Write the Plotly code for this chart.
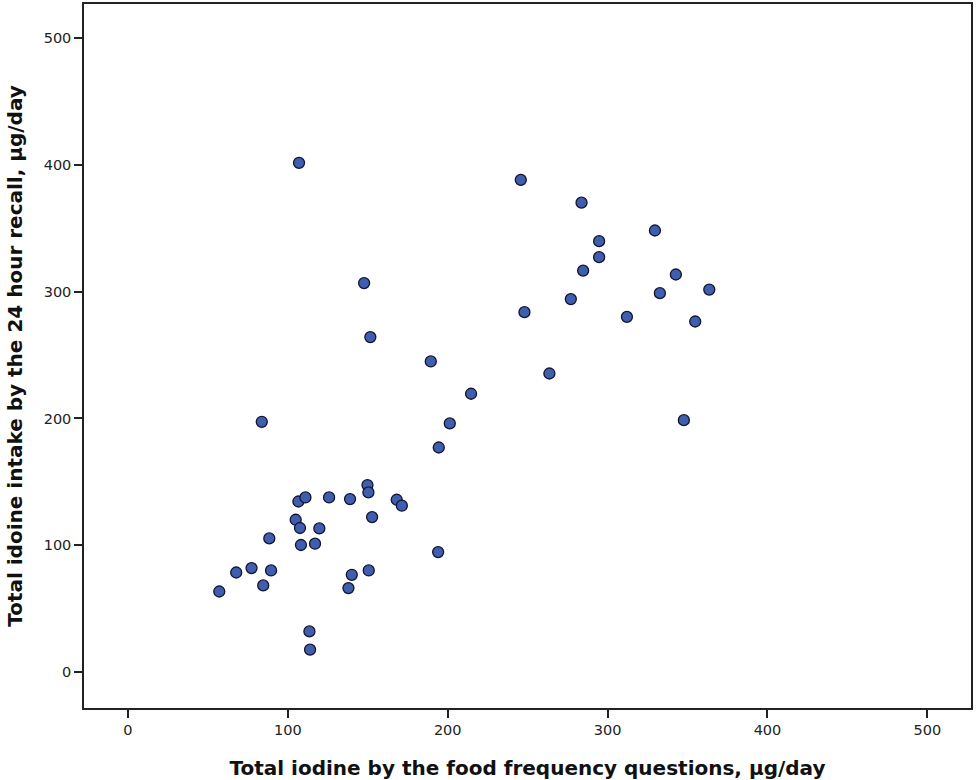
import plotly.graph_objects as go

# Total iodine by FFQ (x) vs 24-hour recall (y), µg/day
ffq = [57.1, 67.7, 77.3, 84.6, 89.5, 88.4, 104.9, 107.6, 108.2, 106.6,
       111.0, 117.0, 119.7, 125.8, 138.9, 149.8, 150.4, 152.7, 168.1, 171.3,
       140.0, 137.9, 150.6, 194.0, 113.5, 113.9, 107.0, 147.7, 151.6, 189.4,
       214.6, 201.3, 194.4, 83.7, 245.7, 283.7, 329.6, 294.7, 294.7, 284.7,
       342.7, 277.0, 332.7, 363.6, 248.0, 312.1, 354.8, 263.6, 347.7]
recall = [63.5, 78.5, 82.0, 68.3, 80.1, 105.4, 120.1, 113.6, 100.2, 134.5,
          137.7, 101.2, 113.3, 137.7, 136.4, 147.5, 141.7, 122.2, 135.9, 131.2,
          76.7, 66.2, 80.1, 94.6, 32.0, 17.6, 401.7, 306.8, 264.2, 245.0,
          219.5, 196.1, 177.1, 197.4, 388.2, 370.3, 348.3, 339.9, 327.3, 316.7,
          313.6, 294.2, 298.9, 301.7, 283.9, 280.2, 276.5, 235.5, 198.7]

tick_vals = [0, 100, 200, 300, 400, 500]
tick_text = ["0", "100", "200", "300", "400", "500"]

x_title = "Total iodine by the food frequency questions, µg/day"
y_title = "Total idoine intake by the 24 hour recall, µg/day"

fig = go.Figure()
fig.add_trace(go.Scatter(
    x=ffq, y=recall, mode="markers",
    marker=dict(size=11, color="#3F5EAE", line=dict(color="#141432", width=1.3)),
    showlegend=False, hoverinfo="skip",
))

axis_common = dict(
    showgrid=False, zeroline=False, showline=True, mirror=True,
    linecolor="#222222", linewidth=1.5,
    ticks="outside", ticklen=8, tickwidth=1.5, tickcolor="#222222",
    tickvals=tick_vals, ticktext=tick_text,
    tickfont=dict(family="DejaVu Sans", size=14.5, color="#222222"),
)

fig.update_xaxes(range=[-27.5, 527.3],
                 title=dict(text=x_title, standoff=25,
                            font=dict(family="DejaVu Sans", size=20, color="#111111", weight="bold")),
                 **axis_common)
fig.update_yaxes(range=[-28.4, 527],
                 title=dict(text=y_title, standoff=16,
                            font=dict(family="DejaVu Sans", size=20, color="#111111", weight="bold")),
                 **axis_common)

fig.update_layout(
    width=980, height=780,
    margin=dict(l=84, r=9, t=4, b=72, autoexpand=False),
    plot_bgcolor="white", paper_bgcolor="white",
)
fig.update_xaxes(automargin=False)
fig.update_yaxes(automargin=False)

fig.write_html("out.html")
